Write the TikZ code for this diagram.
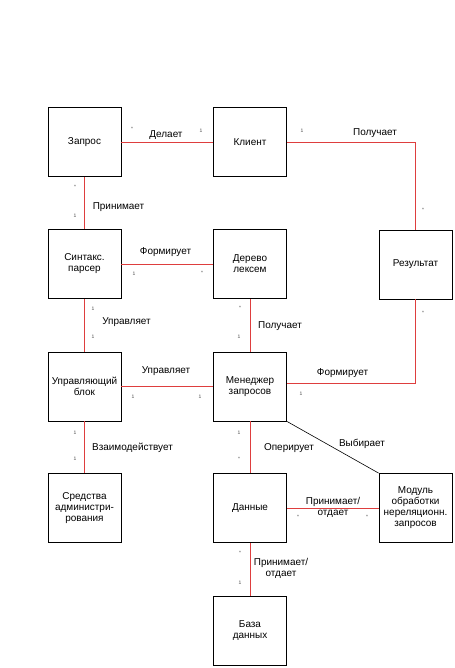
\documentclass[tikz,border=0pt]{standalone}
\usepackage{fontspec}
\setmainfont{Liberation Sans}
\usetikzlibrary{calc}
\definecolor{linkred}{RGB}{222,62,62}
\tikzset{
  cls/.style={draw=black,line width=0.8bp,minimum width=73bp,minimum height=69bp,
    align=center,inner sep=1bp,font=\fontsize{10}{11}\selectfont},   % class box
  assoc/.style={linkred,line width=0.8bp},                          % association
  sel/.style={black,line width=0.6bp},
  lbl/.style={font=\fontsize{10}{11}\selectfont,inner sep=0pt,align=center},
  mlt/.style={font=\fontsize{5}{6}\selectfont,inner sep=0pt,black!70},% multiplicity
}
\newcommand{\mult}[4]{\node[mlt] (#1) at (#2,#3) {#4};}

\begin{document}
\begin{tikzpicture}[x=1bp,y=-1bp]
  \useasboundingbox (0,0) rectangle (455,668);
  % classes
  \node[cls] (query)   at (84.5,142)   {Запрос};
  \node[cls] (client)  at (250,142)    {Клиент};
  \node[cls] (result)  at (415.5,264.5){Результат};
  \node[cls] (parser)  at (84.5,264)   {Синтакс.\\парсер};
  \node[cls] (tree)    at (250,264)    {Дерево\\лексем};
  \node[cls] (control) at (84.5,386.5) {Управляющий\\блок};
  \node[cls] (manager) at (250,386.5)  {Менеджер\\запросов};
  \node[cls] (admin)   at (84.5,508)   {Средства\\администри-\\рования};
  \node[cls] (data)    at (250,508)    {Данные};
  \node[cls] (module)  at (415.5,508)  {Модуль\\обработки\\нереляционн.\\запросов};
  \node[cls] (db)      at (250,631)    {База\\данных};

  % associations
  \draw[assoc] (query) -- (client);
  \draw[assoc] (client.east) -| (result.north);
  \draw[assoc] (query) -- (parser);
  \draw[assoc] (parser) -- (tree);
  \draw[assoc] (parser) -- (control);
  \draw[assoc] (tree) -- (manager);
  \draw[assoc] (control) -- (manager);
  \draw[assoc] ([yshift=3bp]manager.east) -| (result.south);
  \draw[assoc] (control) -- (admin);
  \draw[assoc] (manager) -- (data);
  \draw[assoc] (data) -- (module);
  \draw[assoc] (data) -- (db);
  \draw[sel] (manager.south east) -- (module.north west);

  % labels
  \node[lbl] (l1)  at (166,135)   {Делает};
  \node[lbl] (l2)  at (375,133)   {Получает};
  \node[lbl] (l3)  at (118.5,207) {Принимает};
  \node[lbl] (l4)  at (165.5,252) {Формирует};
  \node[lbl] (l5)  at (126.5,322) {Управляет};
  \node[lbl] (l6)  at (280,326)   {Получает};
  \node[lbl] (l7)  at (166,371)   {Управляет};
  \node[lbl] (l8)  at (342.5,373) {Формирует};
  \node[lbl] (l9)  at (132.5,448) {Взаимодействует};
  \node[lbl] (l10) at (289,448)   {Оперирует};
  \node[lbl] (l11) at (362,444)   {Выбирает};
  \node[lbl] (l12) at (333,507.5) {Принимает/\\отдает};
  \node[lbl] (l13) at (281,568)   {Принимает/\\отдает};

  % multiplicities
  \mult{m1}{132}{129}{*}   \mult{m2}{201}{131}{1}
  \mult{m3}{302}{131}{1}   \mult{m4}{423}{210}{*}
  \mult{m5}{75}{187}{*}    \mult{m6}{75}{216}{1}
  \mult{m7}{134}{274}{1}   \mult{m8}{202}{273}{*}
  \mult{m9}{93}{309}{1}    \mult{m10}{93}{337}{1}
  \mult{m11}{240}{308}{*}  \mult{m12}{239}{337}{1}
  \mult{m13}{133}{397}{1}  \mult{m14}{200}{397}{1}
  \mult{m15}{301}{394}{1}  \mult{m16}{423}{313}{*}
  \mult{m17}{75}{433}{1}   \mult{m18}{75}{459}{1}
  \mult{m19}{239}{433}{1}  \mult{m20}{239}{459}{*}
  \mult{m21}{298}{517}{*}  \mult{m22}{367}{517}{*}
  \mult{m23}{240}{553}{*}  \mult{m24}{240}{583}{1}
\end{tikzpicture}
\end{document}
